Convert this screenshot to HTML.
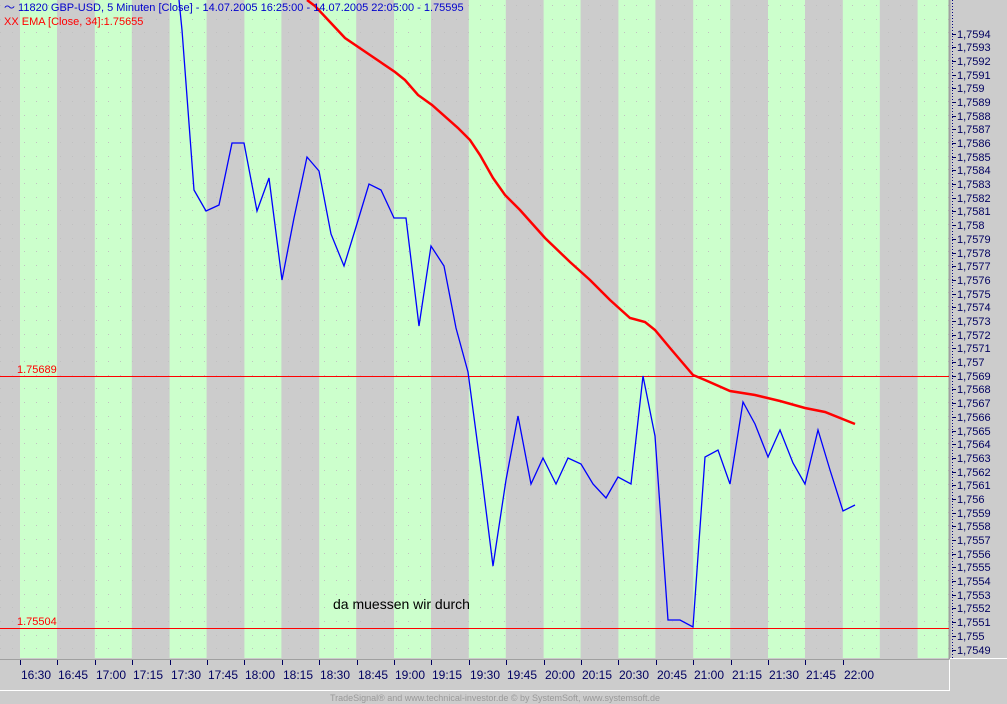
<!DOCTYPE html>
<html><head><meta charset="utf-8"><style>
html,body{margin:0;padding:0;background:#cccccc;width:1007px;height:704px;overflow:hidden}
svg{display:block;font-family:"Liberation Sans",sans-serif}
</style></head><body>
<svg id="s" width="1007" height="704" xmlns="http://www.w3.org/2000/svg">
<rect width="1007" height="704" fill="#cccccc"/>
<g id="stripes"></g>
<g id="dots"></g>
<line x1="949.5" y1="0" x2="949.5" y2="659" stroke="#a0a0a0" stroke-width="2"/>
<line x1="952.5" y1="0" x2="952.5" y2="659" stroke="#000080" stroke-dasharray="1,2"/>
<g id="yax" font-size="11" fill="#000060"></g>
<line x1="950" y1="658.5" x2="1007" y2="658.5" stroke="#ffffff"/>
<line x1="0" y1="659.5" x2="949" y2="659.5" stroke="#a0a0a0"/>
<line x1="0" y1="690.5" x2="949" y2="690.5" stroke="#ffffff"/>
<line x1="949.5" y1="660" x2="949.5" y2="691" stroke="#ffffff"/>
<g id="xax" font-size="12" fill="#000060"></g>
<line x1="0" y1="376.5" x2="949" y2="376.5" stroke="#ff0000"/>
<line x1="0" y1="628.5" x2="949" y2="628.5" stroke="#ff0000"/>
<text x="17" y="373" font-size="11" fill="#ff0000">1.75689</text>
<text x="17" y="625" font-size="11" fill="#ff0000">1.75504</text>
<polyline fill="none" stroke="#ff0000" stroke-width="2.5" points="307,0 315,6 330,22 345,38 370,55 395,72 405,80 418,95 432,105 458,128 470,140 480,155 493,178 505,195 520,210 545,238 570,262 590,280 610,300 630,318 645,322 655,330 670,348 693,375 705,380 730,391 755,395 780,401 805,408 825,412 855,424"/>
<polyline fill="none" stroke="#0000ff" stroke-width="1.3" points="179,0 182,30 194,190 206,211 219,205 232,143 244,143 257,211 269,178 282,280 294,218 307,157 319,171 331,234 344,266 356,227 369,184 381,190 394,218 406,218 419,326 431,246 444,266 456,328 468,372 481,470 493,566 506,480 518,416 531,484 543,458 556,484 568,458 581,464 593,484 606,498 618,477 631,484 643,376 655,436 668,620 680,620 693,627 705,457 718,450 730,484 743,402 755,424 768,457 780,430 793,463 805,484 818,430 830,470 843,511 855,505"/>
<text x="333" y="609" font-size="14" fill="#000">da muessen wir durch</text>
<text x="4" y="11" font-size="11" fill="#0000cc">〜 11820  GBP-USD, 5 Minuten [Close] - 14.07.2005 16:25:00 - 14.07.2005 22:05:00 - 1.75595</text>
<text x="4" y="25" font-size="11" fill="#ff0000">XX EMA [Close, 34]:1.75655</text>
<text x="495" y="701" font-size="9" fill="#999999" text-anchor="middle">TradeSignal® and www.technical-investor.de © by SystemSoft, www.systemsoft.de</text>
</svg>
<script>
var NS="http://www.w3.org/2000/svg";
function el(p,t,a,txt){var e=document.createElementNS(NS,t);for(var k in a)e.setAttribute(k,a[k]);if(txt)e.textContent=txt;document.getElementById(p).appendChild(e);return e;}
var step=37.4;
for(var i=0;i<13;i++){var x=20+2*step*i;var w=Math.min(37,949-x);if(w>0)el("stripes","rect",{x:x,y:0,width:w,height:658,fill:"#ccffcc"});}
for(var y=5;y<658;y+=13.69){el("dots","line",{x1:0,y1:Math.round(y)+.5,x2:949,y2:Math.round(y)+.5,stroke:"#c0c0c0","stroke-dasharray":"1,11"});}
var times=["16:30","16:45","17:00","17:15","17:30","17:45","18:00","18:15","18:30","18:45","19:00","19:15","19:30","19:45","20:00","20:15","20:30","20:45","21:00","21:15","21:30","21:45","22:00"];
for(var i=0;i<times.length;i++){var x=Math.round(20+step*i);el("xax","line",{x1:x+.5,y1:660,x2:x+.5,y2:665,stroke:"#000060"});el("xax","text",{x:x+16,y:679,"text-anchor":"middle"},times[i]);}
for(var i=0;i<=45;i++){var v=17594-i;var y=Math.round(33.5+i*13.69);var s=("1,"+String(v).slice(1)).replace(/0+$/,"");el("yax","line",{x1:952,y1:y+.5,x2:956,y2:y+.5,stroke:"#000060"});el("yax","text",{x:957,y:y+4},s);}
</script>
</body></html>
